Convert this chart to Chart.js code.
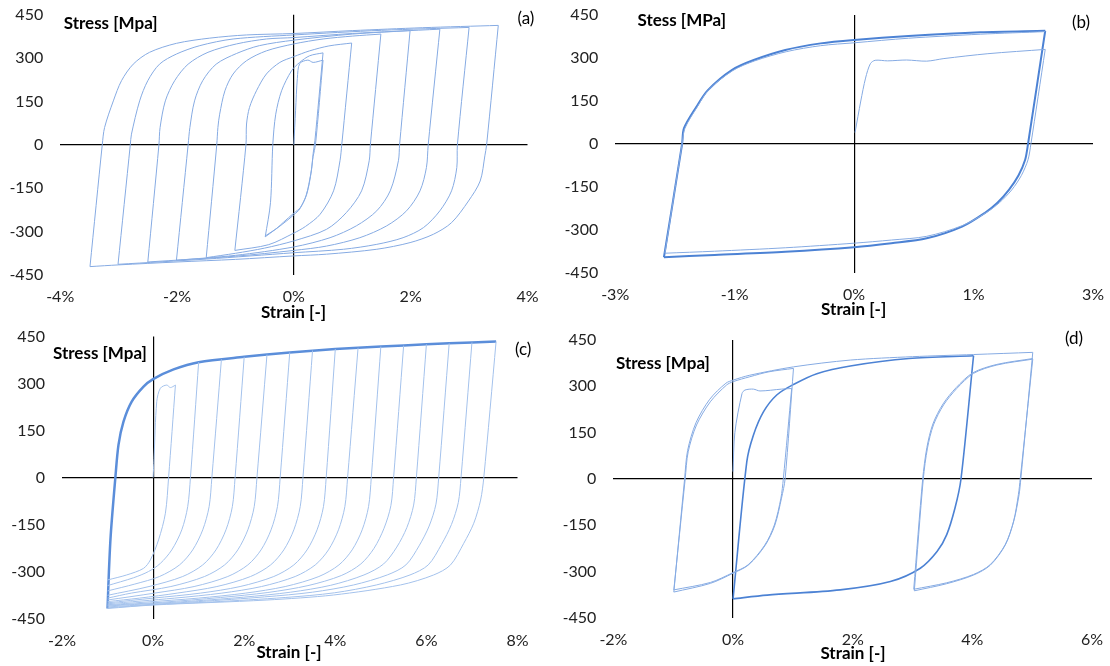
<!DOCTYPE html>
<html>
<head>
<meta charset="utf-8">
<script src="https://cdn.jsdelivr.net/npm/chart.js@4.4.1/dist/chart.umd.min.js"></script>
<style>
  html, body { margin: 0; padding: 0; background: #fff; }
  #wrap { position: relative; width: 1110px; height: 666px; overflow: hidden; }
  #wrap canvas { position: absolute; left: 0; top: 0; }
</style>
</head>
<body>
<div id="wrap">
  <canvas id="chartA" width="1110" height="666"></canvas>
  <canvas id="chartB" width="1110" height="666"></canvas>
  <canvas id="chartC" width="1110" height="666"></canvas>
  <canvas id="chartD" width="1110" height="666"></canvas>
</div>
<script>
// strain in %, stress in MPa

const stressTicks = [-450, -300, -150, 0, 150, 300, 450];

// ---- (a) symmetric cycles with growing amplitude
const aInitial = [[0,0],[0.03,120],[0.06,230],[0.10,281],[0.24,293],[0.33,285],[0.50,293],[0.37,0],[0.33,-40],[0.29,-100],[0.21,-175],[0.10,-222],[0,-242],[-0.20,-275],[-0.49,-318]];
const aLoop05 = [[-0.49,-318],[-0.40,-200],[-0.36,2],[-0.31,106],[-0.21,187],[-0.04,256],[0.10,285],[0.27,308],[0.50,318],[0.36,14],[0.33,-30],[0.30,-90],[0.22,-171],[0.11,-217],[0,-236],[-0.18,-268],[-0.29,-288],[-0.49,-315]];
const aLoop10 = [[-1.01,-365],[-0.82,0],[-0.81,72],[-0.76,129],[-0.64,187],[-0.47,245],[-0.24,285],[0,305],[0.27,325],[0.60,342],[0.99,352],[0.82,0],[0.79,-55],[0.68,-159],[0.45,-240],[0.20,-282],[0,-305],[-0.43,-345],[-1.01,-365]];
const aLoop15 = [[-1.50,-390],[-1.32,0],[-1.30,60],[-1.27,106],[-1.18,187],[-1.04,245],[-0.81,291],[-0.47,325],[0,349],[0.50,366],[1.00,376],[1.49,383],[1.31,0],[1.29,-55],[1.16,-159],[0.90,-234],[0.56,-292],[0,-332],[-0.50,-357],[-1.00,-375],[-1.50,-390]];
const aLoop20 = [[-2.01,-399],[-1.81,0],[-1.78,60],[-1.70,152],[-1.56,222],[-1.33,279],[-0.98,316],[-0.59,343],[0,362],[1.00,383],[1.99,395],[1.81,0],[1.79,-55],[1.65,-159],[1.42,-228],[1.07,-280],[0.62,-321],[0,-353],[-1.00,-382],[-2.01,-399]];
const aLoop25 = [[-2.50,-405],[-2.31,0],[-2.29,60],[-2.20,152],[-2.04,222],[-1.81,279],[-1.47,320],[-0.98,349],[-0.47,366],[0,371],[1.00,385],[2.50,400],[2.30,0],[2.27,-78],[2.16,-159],[1.93,-228],[1.59,-280],[1.13,-321],[0.56,-350],[0,-365],[-1.00,-385],[-2.50,-405]];
const aLoop30 = [[-3.01,-413],[-2.80,0],[-2.78,37],[-2.64,152],[-2.50,222],[-2.30,279],[-2.01,314],[-1.61,343],[-1.04,366],[0,380],[1.50,396],[3.00,406],[2.80,0],[2.79,-78],[2.70,-159],[2.50,-228],[2.22,-286],[1.87,-321],[1.42,-344],[0.85,-361],[0,-373],[-1.50,-395],[-3.01,-413]];
const aLoop35 = [[-3.49,-421],[-3.28,0],[-3.24,60],[-3.09,152],[-2.95,222],[-2.75,279],[-2.47,320],[-2.01,351],[-1.44,369],[-0.81,380],[0,385],[1.00,395],[2.20,405],[3.50,413],[3.30,0],[3.27,-38],[3.19,-125],[2.99,-194],[2.70,-269],[2.39,-309],[1.99,-338],[1.42,-361],[0.56,-378],[0,-384],[-1.00,-396],[-2.00,-405],[-3.00,-415],[-3.49,-421]];

// ---- (b) +-2% cycles
const bInitial = [[0.01,40],[0.07,150],[0.12,230],[0.17,280],[0.22,292],[0.35,290],[0.55,293],[0.76,289],[0.94,298],[1.40,315],[2.00,330],[1.85,0],[1.82,-55],[1.75,-110],[1.65,-160],[1.52,-205],[1.38,-240],[1.13,-285],[0.76,-322],[0.39,-335],[0,-346],[-0.72,-362],[-1.46,-374],[-1.98,-381]];
const bCycle1 = [[-1.98,-381],[-1.80,0],[-1.77,55],[-1.64,130],[-1.52,190],[-1.27,256],[-1.04,290],[-0.71,322],[-0.35,343],[0,353],[0.57,369],[1.32,383],[2.00,392]];
const bMain = [[2.00,395],[1.82,0],[1.79,-55],[1.72,-110],[1.62,-160],[1.50,-205],[1.37,-240],[1.13,-288],[0.76,-329],[0.39,-346],[0,-360],[-0.72,-376],[-1.46,-387],[-1.99,-395],[-1.80,0],[-1.78,55],[-1.65,130],[-1.53,188],[-1.28,258],[-1.05,293],[-0.72,328],[-0.35,351],[0,363],[0.57,377],[1.32,390],[2.00,395]];

// ---- (c) fixed -1% with growing positive strain
const cEnvelope = [[-1.00,-418],[-0.97,-300],[-0.93,-183],[-0.83,-3],[-0.76,104],[-0.65,178],[-0.47,242],[-0.21,290],[0,314],[0.45,345],[1.00,368],[2.00,385],[3.00,399],[4.00,410],[5.00,418],[6.00,425],[7.00,431],[7.53,434]];
const cInitial = [[0,0],[0.02,60],[0.08,242],[0.16,285],[0.30,295],[0.38,287],[0.49,295],[0.34,0],[0.27,-114],[0.12,-199],[-0.06,-263],[-0.21,-290],[-0.58,-311],[-1.00,-327]];
const cDown10 = [[1.00,368],[0.82,0],[0.76,-93],[0.63,-167],[0.41,-231],[0.16,-274],[-0.10,-300],[-0.43,-320],[-1.00,-345]];
const cDown15 = [[1.50,377],[1.29,0],[1.23,-93],[1.09,-167],[0.87,-231],[0.58,-279],[0.14,-316],[-0.40,-340],[-1.00,-362]];
const cDown20 = [[2.00,385],[1.80,0],[1.74,-93],[1.60,-167],[1.38,-231],[1.09,-279],[0.65,-316],[-0.09,-348],[-1.00,-376]];
const cDown25 = [[2.50,392],[2.28,0],[2.22,-93],[2.08,-167],[1.86,-231],[1.57,-279],[1.13,-316],[0.39,-348],[-0.48,-369],[-1.00,-385]];
const cDown30 = [[3.00,399],[2.79,0],[2.73,-93],[2.59,-167],[2.37,-231],[2.08,-279],[1.64,-316],[0.90,-348],[0.03,-369],[-1.00,-391]];
const cDown35 = [[3.50,405],[3.29,0],[3.23,-93],[3.09,-167],[2.87,-231],[2.58,-279],[2.14,-316],[1.40,-348],[0.53,-369],[-0.30,-385],[-1.00,-396]];
const cDown40 = [[4.00,410],[3.80,0],[3.74,-93],[3.60,-167],[3.38,-231],[3.09,-279],[2.65,-316],[1.91,-348],[1.04,-369],[0,-385],[-1.00,-400]];
const cDown45 = [[4.50,414],[4.27,0],[4.21,-93],[4.07,-167],[3.85,-231],[3.56,-279],[3.12,-316],[2.38,-348],[1.51,-369],[0.47,-385],[-1.00,-403]];
const cDown50 = [[5.00,418],[4.79,0],[4.73,-93],[4.59,-167],[4.37,-231],[4.08,-279],[3.64,-316],[2.90,-348],[2.03,-369],[0.99,-385],[-0.20,-398],[-1.00,-406]];
const cDown55 = [[5.50,421],[5.28,0],[5.22,-90],[5.07,-162],[4.85,-226],[4.56,-276],[4.13,-313],[3.40,-345],[2.52,-367],[1.48,-383],[0.20,-398],[-1.00,-408]];
const cDown60 = [[6.00,425],[5.78,0],[5.72,-88],[5.57,-160],[5.35,-222],[5.06,-276],[4.63,-311],[3.90,-344],[3.02,-366],[1.98,-382],[0.60,-397],[-1.00,-410]];
const cDown65 = [[6.50,428],[6.27,0],[6.21,-85],[6.06,-155],[5.84,-218],[5.55,-279],[5.14,-311],[4.40,-343],[3.50,-366],[2.45,-381],[1.00,-396],[-1.00,-413]];
const cDown70 = [[7.00,431],[6.76,0],[6.70,-80],[6.55,-150],[6.33,-214],[6.04,-279],[5.64,-311],[4.90,-343],[3.98,-368],[2.90,-383],[1.30,-397],[0,-406],[-1.00,-416]];
const cDown75 = [[7.53,434],[7.26,0],[7.19,-72],[7.04,-146],[6.82,-210],[6.53,-279],[6.16,-311],[5.43,-343],[3.96,-375],[2.50,-391],[0,-407],[-1.00,-418]];

// ---- (d) shifted cycles
const dInitial = [[0,24],[0.03,150],[0.15,277],[0.20,288],[0.34,291],[0.45,285],[0.81,291],[0.98,293],[0.84,0],[0.80,-62],[0.69,-149],[0.53,-214],[0.25,-278],[0,-303],[-0.38,-335],[-0.99,-359]];
const dLoop1 = [[-0.99,-359],[-0.80,0],[-0.75,88],[-0.61,175],[-0.38,250],[-0.11,304],[0,315],[0.28,331],[0.60,347],[1.01,358],[0.87,0],[0.81,-62],[0.70,-149],[0.54,-214],[0.26,-278],[0,-305],[-0.38,-338],[-0.99,-366]];
const dRise = [[-0.99,-366],[-0.81,0],[-0.76,92],[-0.62,182],[-0.39,258],[-0.12,310],[0,320],[0.28,336],[1.01,363],[1.96,385],[3.00,396],[4.02,403],[5.01,410]];
const dRight = [[5.01,410],[4.81,0],[4.78,-52],[4.69,-138],[4.55,-214],[4.30,-279],[4.02,-311],[3.57,-339],[3.03,-362],[3.18,0],[3.25,100],[3.35,175],[3.52,240],[3.74,293],[4.02,342],[4.41,369],[5.01,388],[4.80,0],[4.77,-50],[4.69,-136],[4.55,-212],[4.30,-277],[4.02,-309],[3.57,-336],[3.02,-357],[3.17,0],[3.24,102],[3.34,178],[3.51,243],[3.73,296],[4.01,344],[4.41,371],[5.01,390]];
const dMain = [[0.00,-388],[0.23,56],[0.34,142],[0.51,218],[0.73,272],[1.01,306],[1.40,341],[1.96,366],[2.94,390],[4.02,399],[3.81,0],[3.71,-94],[3.57,-181],[3.41,-235],[3.13,-289],[2.63,-332],[1.79,-359],[0.57,-376],[0.00,-388]];

const THIN = '#86ABE3';
const THIN_C = '#A4C2EC';
const THICK = '#4C82D4';

function pctLabel(v) {
  const r = Math.sign(v) * Math.round(Math.abs(v)); // excel style: 2.5 -> 3
  return (r === 0 ? 0 : r) + '%';
}

// cut a path where the strain turns back, so each branch is smoothed on its own
function branches(path) {
  const out = [];
  let cur = [path[0]];
  let dir = 0;
  for (let i = 1; i < path.length; i++) {
    const d = Math.sign(path[i][0] - path[i - 1][0]);
    if (dir !== 0 && d !== 0 && d !== dir) {
      out.push(cur);
      cur = [path[i - 1]];
    }
    if (d !== 0) dir = d;
    cur.push(path[i]);
  }
  out.push(cur);
  return out;
}

function textPlugin(items) {
  return {
    id: 'panelText',
    afterDraw(chart) {
      const ctx = chart.ctx;
      ctx.save();
      items.forEach(t => {
        ctx.font = (t.bold ? 'bold ' : '') + '17px Lato';
        ctx.fillStyle = '#000';
        ctx.textAlign = t.align || 'left';
        ctx.textBaseline = 'middle';
        ctx.fillText(t.text, t.x, t.y);
      });
      ctx.restore();
    }
  };
}

function zeroLine(ctx) {
  return Math.abs(ctx.tick.value) < 1e-9 ? '#000' : 'rgba(0,0,0,0)';
}

function makePanel(id, area, xAxis, sets, texts) {
  const datasets = [];
  sets.forEach(s => {
    branches(s.data).forEach(part => {
      datasets.push({
        data: part,
        showLine: true,
        borderColor: s.color,
        borderWidth: s.width,
        pointRadius: 0,
        tension: 0.3,
        fill: false
      });
    });
  });
  return new Chart(document.getElementById(id), {
    type: 'scatter',
    data: { datasets },
    options: {
      responsive: false,
      animation: false,
      devicePixelRatio: 1,
      events: [],
      layout: {
        padding: { left: area.left - 50, top: area.top, right: 1110 - area.right, bottom: 666 - area.bottom - 40 }
      },
      plugins: { legend: { display: false }, tooltip: { enabled: false } },
      scales: {
        x: {
          type: 'linear',
          min: xAxis.min,
          max: xAxis.max,
          afterFit: s => { s.height = 40; s.paddingLeft = 0; s.paddingRight = 0; },
          border: { display: false },
          grid: { drawTicks: false, color: zeroLine, lineWidth: 1.2 },
          ticks: {
            stepSize: xAxis.step,
            autoSkip: false,
            maxRotation: 0,
            padding: xAxis.pad,
            color: '#222',
            font: { family: 'Lato', size: 16 },
            callback: v => pctLabel(v)
          }
        },
        y: {
          type: 'linear',
          min: -450,
          max: 450,
          afterFit: s => { s.width = 50; s.paddingTop = 0; s.paddingBottom = 0; },
          afterBuildTicks: s => { s.ticks = stressTicks.map(v => ({ value: v })); },
          border: { display: false },
          grid: { drawTicks: false, color: zeroLine, lineWidth: 1.2 },
          ticks: {
            autoSkip: false,
            padding: 17,
            color: '#222',
            font: { family: 'Lato', size: 16 }
          }
        }
      }
    },
    plugins: [textPlugin(texts)]
  });
}

makePanel('chartA', { left: 60.2, right: 527.5, top: 14.7, bottom: 275 },
  { min: -4, max: 4, step: 2, pad: 12 },
  [aInitial, aLoop05, aLoop10, aLoop15, aLoop20, aLoop25, aLoop30, aLoop35].map(d => ({ data: d, color: THIN, width: 1 })),
  [
    { text: 'Stress [Mpa]', x: 63.7, y: 24, bold: true },
    { text: '(a)', x: 517.5, y: 19 },
    { text: 'Strain [-]', x: 293.5, y: 312.7, bold: true, align: 'center' }
  ]);

makePanel('chartB', { left: 615.2, right: 1093, top: 15, bottom: 273 },
  { min: -2.5, max: 2.5, step: 1.25, pad: 12 },
  [
    { data: bInitial, color: THIN, width: 1 },
    { data: bCycle1, color: THIN, width: 1 },
    { data: bMain, color: THICK, width: 2 }
  ],
  [
    { text: 'Stess [MPa]', x: 637.5, y: 20.7, bold: true },
    { text: '(b)', x: 1072, y: 22.7 },
    { text: 'Strain [-]', x: 853.7, y: 309.3, bold: true, align: 'center' }
  ]);

makePanel('chartC', { left: 62, right: 517.5, top: 336.5, bottom: 618.5 },
  { min: -2, max: 8, step: 2, pad: 13 },
  [cInitial, cDown10, cDown15, cDown20, cDown25, cDown30, cDown35, cDown40, cDown45, cDown50, cDown55, cDown60, cDown65, cDown70, cDown75]
    .map(d => ({ data: d, color: THIN_C, width: 1 }))
    .concat([{ data: cEnvelope, color: '#5B8EDA', width: 2.5 }]),
  [
    { text: 'Stress [Mpa]', x: 53, y: 353.7, bold: true },
    { text: '(c)', x: 515, y: 349.7 },
    { text: 'Strain [-]', x: 289, y: 653, bold: true, align: 'center' }
  ]);

makePanel('chartD', { left: 613.4, right: 1092, top: 340, bottom: 618 },
  { min: -2, max: 6, step: 2, pad: 12 },
  [
    { data: dInitial, color: THIN, width: 1 },
    { data: dLoop1, color: THIN, width: 1 },
    { data: dRise, color: THIN, width: 1 },
    { data: dRight, color: THIN, width: 1 },
    { data: dMain, color: THICK, width: 1.6 }
  ],
  [
    { text: 'Stress [Mpa]', x: 616, y: 364, bold: true },
    { text: '(d)', x: 1065, y: 339 },
    { text: 'Strain [-]', x: 853, y: 653.7, bold: true, align: 'center' }
  ]);
</script>
</body>
</html>
